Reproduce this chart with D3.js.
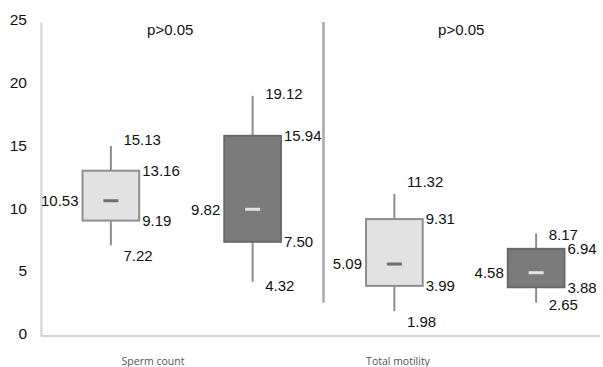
<!DOCTYPE html>
<html>
<head>
<meta charset="utf-8">
<script src="https://cdn.jsdelivr.net/npm/d3@7"></script>
<style>
  body { margin: 0; background: #fff; }
  svg text { font-family: "Liberation Sans", Arial, sans-serif; }
</style>
</head>
<body>
<div id="chart"></div>
<script>
// Data
const groups = ["Sperm count", "Total motility"]
const boxIds = ["sc-1", "sc-2", "tm-1", "tm-2"]
const whiskerMax = [15.13, 19.12, 11.32, 8.17]
const q3Values = [13.16, 15.94, 9.31, 6.94]
const medianValues = [10.53, 9.82, 5.09, 4.58]
const q1Values = [9.19, 7.50, 3.99, 3.88]
const whiskerMin = [7.22, 4.32, 1.98, 2.65]
const markValues = [10.77, 10.09, 5.73, 5.04]   // where the little dash sits
const pLabels = ["p>0.05", "p>0.05"]
const yTicks = [0, 5, 10, 15, 20, 25]

function drawChart() {
  const width = 603
  const height = 367

  // hand placed label nudges (as in the original figure)
  const maxNudge = [-6, -2, -12, 1]
  const minNudge = [10, 4, 10, 2]
  const pNudge = [-11.5, -4]

  const svg = d3.select("#chart")
    .append("svg")
      .attr("width", width)
      .attr("height", height)

  const y = d3.scaleLinear()
    .domain([0, 25])
    .range([336, 22])

  const x = d3.scalePoint()
    .domain(boxIds)
    .range([40, 607])
    .padding(0.5)

  const boxW = x.step() * 0.4
  const isDark = i => i % 2 == 1

  // y axis
  const yAxis = d3.axisLeft(y)
    .tickValues(yTicks)
    .tickSize(0)
    .tickSizeOuter(0)
    .tickPadding(14)

  const yAxisGroup = svg.append("g")
    .attr("transform", "translate(41,0)")
    .call(yAxis)
  yAxisGroup.select(".domain")
    .attr("stroke", "#d9d9d9")
    .attr("stroke-width", 2.5)
  yAxisGroup.selectAll(".tick text")
    .attr("font-size", 15.5)
    .attr("fill", "#111")
    .attr("dy", "0.18em")
    .style("font-family", "Liberation Sans, Arial, sans-serif")

  // baseline
  svg.append("line")
    .attr("x1", 41).attr("x2", 600)
    .attr("y1", y(0)).attr("y2", y(0))
    .attr("stroke", "#d4d4d4")
    .attr("stroke-width", 2)

  // separator between the two groups
  const sepX = x(boxIds[1]) + x.step() / 2
  svg.append("line")
    .attr("x1", sepX).attr("x2", sepX)
    .attr("y1", y(25)).attr("y2", y(2.65))
    .attr("stroke", "#a9a9a9")
    .attr("stroke-width", 2.5)

  const boxes = svg.selectAll(".box")
    .data(boxIds)
    .join("g")
      .attr("class", "box")

  // whiskers
  boxes.append("line")
    .attr("x1", d => x(d)).attr("x2", d => x(d))
    .attr("y1", (d, i) => y(whiskerMax[i]))
    .attr("y2", (d, i) => y(whiskerMin[i]))
    .attr("stroke", "#8c8c8c")
    .attr("stroke-width", 2)

  // boxes
  boxes.append("rect")
    .attr("x", d => x(d) - boxW / 2)
    .attr("width", boxW)
    .attr("y", (d, i) => y(q3Values[i]))
    .attr("height", (d, i) => y(q1Values[i]) - y(q3Values[i]))
    .attr("fill", (d, i) => isDark(i) ? "#7b7b7b" : "#e2e2e2")
    .attr("stroke", (d, i) => isDark(i) ? "#696969" : "#8e8e8e")
    .attr("stroke-width", 2)

  // mean dash
  boxes.append("line")
    .attr("x1", d => x(d) - 7.5).attr("x2", d => x(d) + 7.5)
    .attr("y1", (d, i) => y(markValues[i]))
    .attr("y2", (d, i) => y(markValues[i]))
    .attr("stroke", (d, i) => isDark(i) ? "#e4e4e4" : "#6e6e6e")
    .attr("stroke-width", 3)

  // value labels
  const label = (sel) => sel
    .attr("font-size", 15)
    .attr("fill", "#111")
    .attr("dy", "0.36em")

  boxes.append("text")
    .call(label)
    .attr("x", d => x(d) + 12.5)
    .attr("y", (d, i) => y(whiskerMax[i]) + maxNudge[i])
    .text((d, i) => whiskerMax[i].toFixed(2))

  boxes.append("text")
    .call(label)
    .attr("x", d => x(d) + boxW / 2 + 3)
    .attr("y", (d, i) => y(q3Values[i]))
    .text((d, i) => q3Values[i].toFixed(2))

  boxes.append("text")
    .call(label)
    .attr("x", d => x(d) - boxW / 2 - 4)
    .attr("y", (d, i) => y(markValues[i]))
    .attr("text-anchor", "end")
    .text((d, i) => medianValues[i].toFixed(2))

  boxes.append("text")
    .call(label)
    .attr("x", d => x(d) + boxW / 2 + 3)
    .attr("y", (d, i) => y(q1Values[i]))
    .text((d, i) => q1Values[i].toFixed(2))

  boxes.append("text")
    .call(label)
    .attr("x", d => x(d) + 12.5)
    .attr("y", (d, i) => y(whiskerMin[i]) + minNudge[i])
    .text((d, i) => whiskerMin[i].toFixed(2))

  // p values, one per group
  svg.selectAll(".pval")
    .data(pLabels)
    .join("text")
      .attr("class", "pval")
      .attr("x", (d, i) => (x(boxIds[2 * i]) + x(boxIds[2 * i + 1])) / 2 + pNudge[i])
      .attr("y", y(25) + 7.5)
      .attr("dy", "0.36em")
      .attr("text-anchor", "middle")
      .attr("font-size", 15)
      .attr("fill", "#111")
      .text(d => d)

  // category labels
  const catX = d3.scaleOrdinal()
    .domain(groups)
    .range([153, 398])

  svg.selectAll(".cat")
    .data(groups)
    .join("text")
      .attr("class", "cat")
      .attr("x", d => catX(d))
      .attr("y", 365)
      .attr("text-anchor", "middle")
      .attr("font-size", 10.5)
      .attr("fill", "#555")
      .style("font-family", "Open Sans, sans-serif")
      .text(d => d)
}

drawChart()
</script>
</body>
</html>
